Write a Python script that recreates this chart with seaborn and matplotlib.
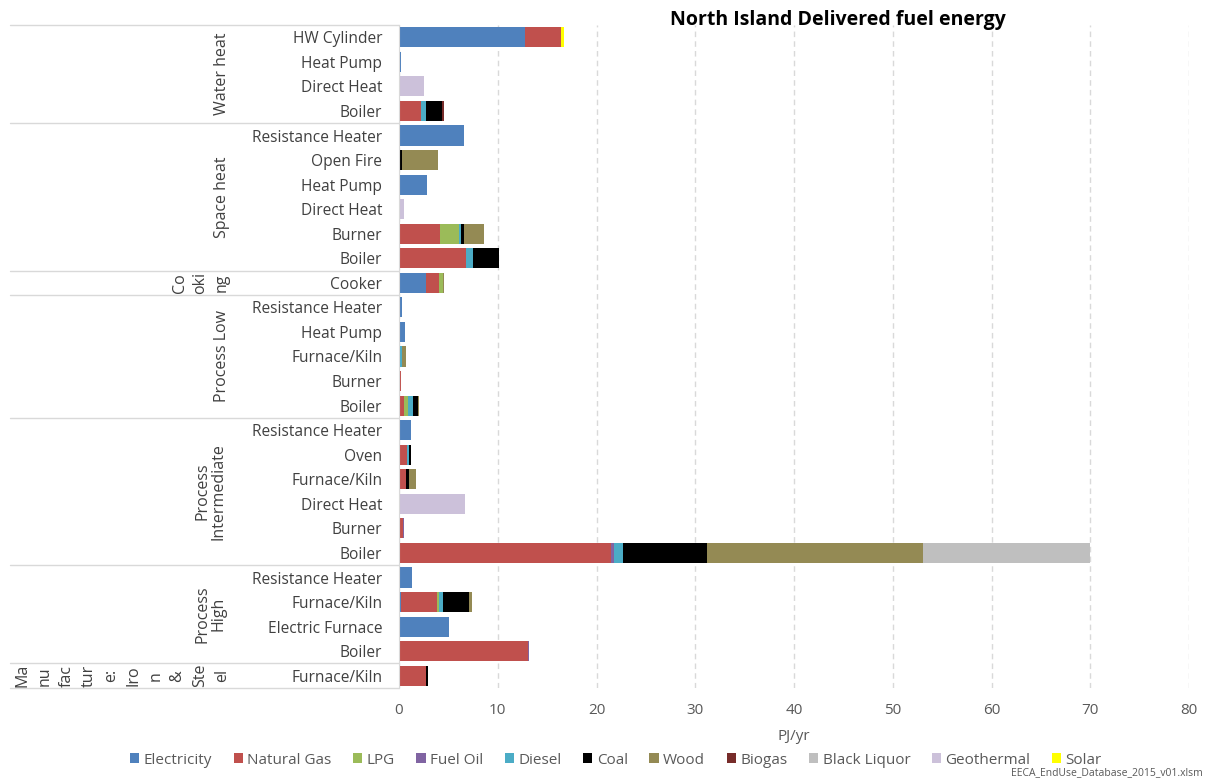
import numpy as np
import pandas as pd
import matplotlib.pyplot as plt
import matplotlib.transforms as mtransforms
from matplotlib.patches import Patch
import seaborn as sns

# --- data (PJ/yr), rows top -> bottom ---
groups = ["Water heat"] * 4 + ["Space heat"] * 6 + ["Cooking"] + ["Process Low"] * 5 \
    + ["Process Intermediate"] * 6 + ["Process High"] * 4 + ["Manufacture: Iron & Steel"]
techs = ["HW Cylinder", "Heat Pump", "Direct Heat", "Boiler",
         "Resistance Heater", "Open Fire", "Heat Pump", "Direct Heat", "Burner", "Boiler",
         "Cooker",
         "Resistance Heater", "Heat Pump", "Furnace/Kiln", "Burner", "Boiler",
         "Resistance Heater", "Oven", "Furnace/Kiln", "Direct Heat", "Burner", "Boiler",
         "Resistance Heater", "Furnace/Kiln", "Electric Furnace", "Boiler",
         "Furnace/Kiln"]

fuels = ["Electricity", "Natural Gas", "LPG", "Fuel Oil", "Diesel", "Coal",
         "Wood", "Biogas", "Black Liquor", "Geothermal", "Solar"]

electricity = [12.8, 0.2, 0, 0, 6.6, 0, 2.8, 0, 0, 0, 2.7, 0.3, 0.6, 0.05, 0, 0,
               1.2, 0.1, 0, 0, 0, 0, 1.3, 0.2, 5.1, 0, 0]
natural_gas = [3.6, 0, 0, 2.2, 0, 0, 0, 0, 4.2, 6.8, 1.4, 0, 0, 0, 0.2, 0.5,
               0, 0.7, 0.7, 0, 0.4, 21.5, 0, 3.6, 0, 13.1, 2.7]
lpg = [0, 0, 0, 0, 0, 0, 0, 0, 1.9, 0, 0.4, 0, 0, 0, 0, 0.4,
       0, 0, 0, 0, 0, 0, 0, 0.3, 0, 0, 0]
fuel_oil = [0, 0, 0, 0, 0, 0, 0, 0, 0, 0, 0, 0, 0, 0, 0, 0,
            0, 0, 0, 0, 0.1, 0.3, 0, 0, 0, 0.1, 0]
diesel = [0, 0, 0, 0.5, 0, 0, 0, 0, 0.2, 0.7, 0, 0, 0, 0.3, 0, 0.5,
          0, 0.2, 0, 0, 0, 0.9, 0, 0.4, 0, 0, 0]
coal = [0, 0, 0, 1.7, 0, 0.3, 0, 0, 0.3, 2.6, 0, 0, 0, 0, 0, 0.5,
        0, 0.2, 0.3, 0, 0, 8.5, 0, 2.6, 0, 0, 0.2]
wood = [0, 0, 0, 0, 0, 3.6, 0, 0, 2.0, 0, 0.1, 0, 0, 0.4, 0, 0.1,
        0, 0, 0.7, 0, 0, 21.9, 0, 0.3, 0, 0, 0]
biogas = [0, 0, 0, 0.2, 0, 0, 0, 0, 0, 0, 0, 0, 0, 0, 0, 0,
          0, 0, 0, 0, 0, 0, 0, 0, 0, 0, 0]
black_liquor = [0, 0, 0, 0, 0, 0, 0, 0, 0, 0, 0, 0, 0, 0, 0, 0,
                0, 0, 0, 0, 0, 16.9, 0, 0, 0, 0, 0]
geothermal = [0, 0, 2.5, 0, 0, 0, 0, 0.5, 0, 0, 0, 0, 0, 0, 0, 0,
              0, 0, 0, 6.7, 0, 0, 0, 0, 0, 0, 0]
solar = [0.3, 0, 0, 0, 0, 0, 0, 0, 0, 0, 0, 0, 0, 0, 0, 0,
         0, 0, 0, 0, 0, 0, 0, 0, 0, 0, 0]

colors = ["#4F81BD", "#C0504D", "#9BBB59", "#8064A2", "#4BACC6", "#000000",
          "#948A54", "#772C2A", "#BFBFBF", "#CCC1DA", "#FFFF00"]

values = [electricity, natural_gas, lpg, fuel_oil, diesel, coal,
          wood, biogas, black_liquor, geothermal, solar]

keys = [f"{i:02d} {g}|{t}" for i, (g, t) in enumerate(zip(groups, techs))]
wide = pd.DataFrame(np.array(values).T, columns=fuels, index=keys)
cum = wide.cumsum(axis=1)

sns.set_style("white")
plt.rcParams['font.family'] = ['Open Sans', 'DejaVu Sans']
txt = "#595959"

fig = plt.figure(figsize=(12.08, 7.80), dpi=100)
ax = fig.add_axes([399 / 1208, 1 - 688 / 780, (1189 - 399) / 1208, (688 - 25) / 780])

# stacked bars: draw cumulative totals from last fuel to first
for fuel, col in reversed(list(zip(fuels, colors))):
    d = pd.DataFrame({"row": keys, "val": cum[fuel].values})
    sns.barplot(data=d, x="val", y="row", order=keys, orient="h", color=col,
                saturation=1, width=0.82, errorbar=None, linewidth=0, ax=ax)

ax.set_xlim(0, 80)
ax.set_ylim(len(keys) - 0.5, -0.5)
ax.set_xticks(range(0, 81, 10))
ax.set_yticks(range(len(keys)))
ax.set_yticklabels(techs, fontsize=11.2, color="#404040")
ax.tick_params(axis="x", length=0, pad=11, labelsize=11, labelcolor=txt)
ax.tick_params(axis="y", length=0, pad=12)
ax.set_ylabel("")
ax.set_xlabel("PJ/yr", fontsize=11, color=txt, labelpad=8)
ax.set_axisbelow(True)
ax.xaxis.grid(True, color="#D9D9D9", linestyle=(0, (4, 3)), linewidth=1)
ax.yaxis.grid(False)
for s in ["top", "right", "bottom"]:
    ax.spines[s].set_visible(False)
ax.spines["left"].set_color("#D9D9D9")

# hierarchical category labels on the left
trans = mtransforms.blended_transform_factory(fig.transFigure, ax.transData)
bounds = [-0.5, 3.5, 9.5, 10.5, 15.5, 21.5, 25.5, 26.5]
for b in bounds:
    ax.plot([10 / 1208, 399 / 1208], [b, b], transform=trans, color="#D9D9D9",
            linewidth=1, clip_on=False)

def glabel(xpix, y, s):
    ax.text(xpix / 1208, y, s, transform=trans, rotation=90, ha="center",
            va="center", fontsize=11.5, color="#404040", linespacing=1.0)

glabel(222, 1.5, "Water heat")
glabel(222, 6.5, "Space heat")
for xp, s in zip([180, 200, 222], ["Co", "oki", "ng"]):
    glabel(xp, 10, s)
glabel(222, 13, "Process Low")
glabel(211, 18.5, "Process\nIntermediate")
glabel(211, 23.5, "Process\nHigh")
chunks = ["Ma", "nu", "fac", "tur", "e:", "Iro", "n", "&", "Ste", "el"]
for i, s in enumerate(chunks):
    glabel(222 - 22.2 * (len(chunks) - 1 - i), 26, s)

fig.text(838 / 1208, 1 - 20 / 780, "North Island Delivered fuel energy",
         ha="center", va="center", fontsize=14, fontweight="bold", color="black")

handles = [Patch(facecolor=c, edgecolor="none", label=f) for f, c in zip(fuels, colors)]
fig.legend(handles=handles, loc="center", bbox_to_anchor=(616 / 1208, 1 - 760 / 780),
           ncol=len(fuels), frameon=False, fontsize=11, labelcolor=txt,
           handlelength=0.6, handleheight=0.6, handletextpad=0.3, columnspacing=1.4)

fig.text(1203 / 1208, 1 - 773 / 780, "EECA_EndUse_Database_2015_v01.xlsm",
         ha="right", va="center", fontsize=7.5, color=txt)

fig.savefig("out.png", dpi=100)
